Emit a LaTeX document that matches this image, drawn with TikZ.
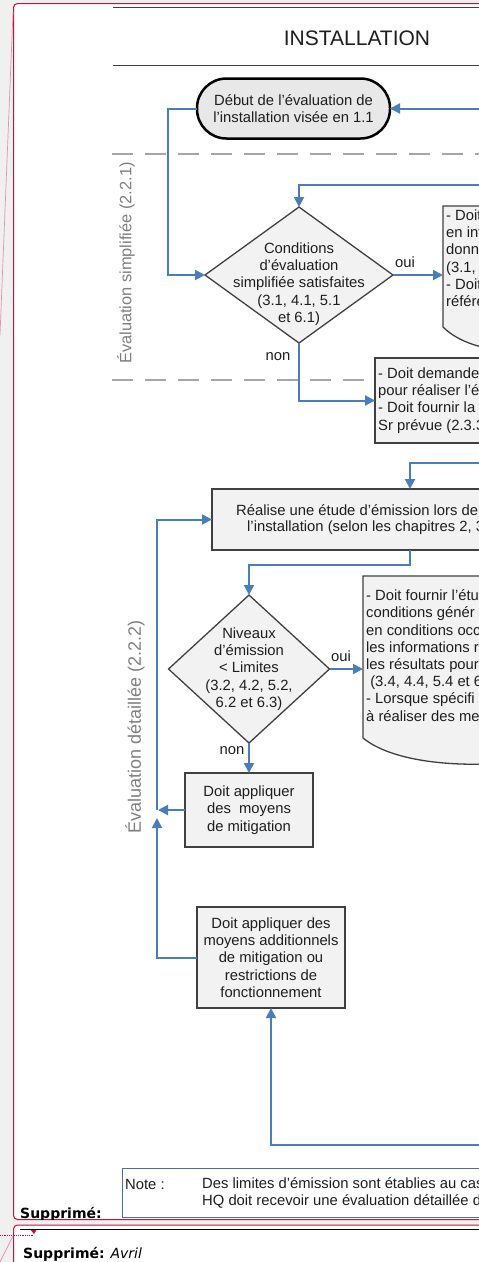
\documentclass[tikz,border=0pt]{standalone}
\usepackage{fontspec}
\setmainfont{Liberation Sans}
\newfontfamily\verd{DejaVu Sans}
\usetikzlibrary{shapes.geometric,arrows.meta,calc}
\definecolor{flowblue}{HTML}{4A7EBB}
\definecolor{boxfill}{HTML}{F2F2F2}
\definecolor{ovalfill}{HTML}{E8E8E8}
\definecolor{boxline}{HTML}{404040}
\definecolor{dashgray}{HTML}{A6A6A6}
\definecolor{labgray}{HTML}{808080}
\definecolor{txt}{HTML}{1E1E1E}
\definecolor{framered}{HTML}{C0143C}
\definecolor{pagegray}{HTML}{F0F0F0}
\definecolor{notebd}{HTML}{4F6E8E}
\tikzset{
  flow/.style={draw=flowblue, line width=2pt, -{Triangle[length=10pt,width=10pt]}},
  stepbox/.style={draw=boxline, fill=boxfill, line width=1.3pt, inner sep=0pt, outer sep=0pt},
  ghost/.style={draw=none, inner sep=0pt, outer sep=0pt},
  body/.style={text=txt, font=\fontsize{14.8}{17.2}\selectfont, inner sep=0pt},
  sidelab/.style={text=labgray, rotate=90, inner sep=0pt},
  rule/.style={draw=boxline, line width=1.5pt},
  sepline/.style={draw=dashgray, line width=2pt, dash pattern=on 21pt off 12pt},
  redframe/.style={draw=framered, line width=1pt, rounded corners=4pt},
  balloon/.style={font=\verd\fontsize{14}{16}\selectfont, inner sep=0pt, text=black}
}
\begin{document}
\begin{tikzpicture}[x=1pt,y=-1pt]
\useasboundingbox (0,0) rectangle (479,1262);
\clip (0,0) rectangle (479,1262);
% page background and revision frames
\fill[pagegray] (0,0) rectangle (479,1262);
\fill[white, rounded corners=4pt] (13.5,3.5) rectangle (500,1219.5);
\fill[white, rounded corners=4pt] (13.5,1225) rectangle (500,1280);
\draw[redframe] (500,3.5) -- (13.5,3.5) -- (13.5,1219.5) -- (500,1219.5);
\draw[redframe] (500,1225) -- (13.5,1225) -- (13.5,1280);
\draw[framered!45, line width=0.7pt] (13,12) -- (0,335);
\draw[framered!45, line width=0.7pt] (13,1236) -- (0,1262);
\draw[framered, line width=0.8pt, densely dotted] (0,1235) -- (33,1235);
\fill[framered] (30,1229) -- (37,1229) -- (34,1234) -- cycle;
\draw[black, line width=0.8pt] (20,1229.5) -- (479,1229.5);

% header
\draw[rule] (113,7.5) -- (479,7.5);
\draw[rule] (113,65.5) -- (479,65.5);
\node[body, font=\fontsize{21}{24}\selectfont] (title) at (357,38) {INSTALLATION};

% separators and side labels
\draw[sepline] (112,154) -- (479,154);
\draw[sepline] (112,380) -- (479,380);
\node[sidelab, font=\fontsize{16.4}{18}\selectfont] (lab1) at (126,263) {Évaluation simplifiée (2.2.1)};
\node[sidelab, font=\fontsize{18}{20}\selectfont] (lab2) at (135,727) {Évaluation détaillée (2.2.2)};

% start
\node[stepbox, draw=black, fill=ovalfill, line width=2.5pt, rounded corners=29.5pt,
      minimum width=193pt, minimum height=60pt, body, align=center] (start) at (293.5,108.5)
      {Début de l’évaluation de\\l’installation visée en 1.1};

% decision 1
\node[stepbox, diamond, minimum width=188pt, minimum height=136pt] (d1) at (299,275) {};
\node[body, align=center] (d1t) at (299,284)
  {Conditions\\d’évaluation\\simplifiée satisfaites\\(3.1, 4.1, 5.1\\et 6.1)};
\node[body] (oui1) at (405,262) {oui};
\node[body] (non1) at (278,357) {non};

% box 1 (document shape)
\node[ghost, anchor=north west, minimum width=50pt, minimum height=121pt] (b1) at (443,206) {};
\filldraw[stepbox] (490,206) -- (443,206) -- (443,327) .. controls (452,336) and (466,344) .. (490,349) -- cycle;
\node[body, anchor=north west, align=left] (b1t) at (446,209.5)
  {- Doit\\en int\\donné\\(3.1, 4\\- Doit\\référe};

% box 2
\node[stepbox, anchor=north west, minimum width=130pt, minimum height=85pt] (b2) at (375,358) {};
\node[body, anchor=north west, align=left] (b2t) at (378,367.5)
  {- Doit demander\\pour réaliser l’év\\- Doit fournir la p\\Sr prévue (2.3.3)};

% box 3
\node[stepbox, anchor=north west, minimum width=300pt, minimum height=61pt] (b3) at (212,489) {};
\node[body, anchor=north west] (b3a) at (236,504) {Réalise une étude d’émission lors de la};
\node[body, anchor=north west] (b3b) at (247,521) {l’installation (selon les chapitres 2, 3};

% decision 2
\node[stepbox, diamond, minimum width=161pt, minimum height=148pt] (d2) at (249,669) {};
\node[body, align=center] (d2t) at (249,669)
  {Niveaux\\d’émission\\< Limites\\(3.2, 4.2, 5.2,\\6.2 et 6.3)};
\node[body] (oui2) at (341,656) {oui};
\node[body] (non2) at (232,751) {non};

% box 4 (document shape)
\node[ghost, anchor=north west, minimum width=120pt, minimum height=162pt] (b4) at (363,576) {};
\filldraw[stepbox] (490,576) -- (363,576) -- (363,738) .. controls (385,756) and (430,766) .. (490,764) -- cycle;
\node[body, anchor=north west, align=left] (b4t) at (366,589.5)
  {- Doit fournir l’étu\\conditions génér\\en conditions occ\\les informations r\\les résultats pour\\\ (3.4, 4.4, 5.4 et 6\\- Lorsque spécifi\\à réaliser des me};

% box 5
\node[stepbox, minimum width=128pt, minimum height=74pt, body, align=center] (b5) at (249,810)
  {Doit appliquer\\des\ \ moyens\\de mitigation};

% box 6
\node[stepbox, minimum width=148pt, minimum height=101pt, body, align=center] (b6) at (271,957.5)
  {Doit appliquer des\\moyens additionnels\\de mitigation ou\\restrictions de\\fonctionnement};

% note
\node[draw=notebd, fill=white, line width=1pt, anchor=north west, minimum width=400pt, minimum height=49pt] (note) at (122,1168) {};
\node[body, anchor=west] (notel) at (125,1184) {Note :};
\node[body, anchor=north west, align=left] (notet) at (202,1177.5)
  {Des limites d’émission sont établies au cas\\HQ doit recevoir une évaluation détaillée du};

% balloons
\begin{scope}
\clip (0,0) rectangle (479,1219);
\node[balloon, anchor=base west] (supp1) at (20,1218) {\bfseries Supprimé:};
\end{scope}
\node[balloon, anchor=base west] (supp2) at (23,1258) {{\bfseries Supprimé:} \itshape Avril};

% connectors
\coordinate (inA) at (479,108.5);
\coordinate (inB) at (479,185);
\coordinate (inC) at (479,463);
\coordinate (inD) at (479,1145);
\draw[flow] (inA) -- (start.east);
\draw[flow] (start.west) -- ++(-29,0) |- (d1.west);
\draw[flow] (inB) -| (d1.north);
\draw[flow] (d1.east) -- (d1.east -| b1.west);
\draw[flow] (d1.south) |- (b2.west);
\draw[flow] (inC) -| ($(b3.north west)+(198,0)$);
\draw[flow] ($(b3.south west)+(198,0)$) -- ++(0,15) -| (d2.north);
\draw[flow] (d2.east) -- (d2.east -| b4.west);
\draw[flow] (d2.south) -- (b5.north);
\draw[flow] (b5.west) -- ++(-27,0);
\draw[flow] ($(b5.west)+(-28,0)$) |- (b3.west);
\draw[flow] (b6.west) -- ++(-40,0) -- ($(b5.west)+(-28,8)$);
\draw[flow] (inD) -| (b6.south);
\end{tikzpicture}
\end{document}
